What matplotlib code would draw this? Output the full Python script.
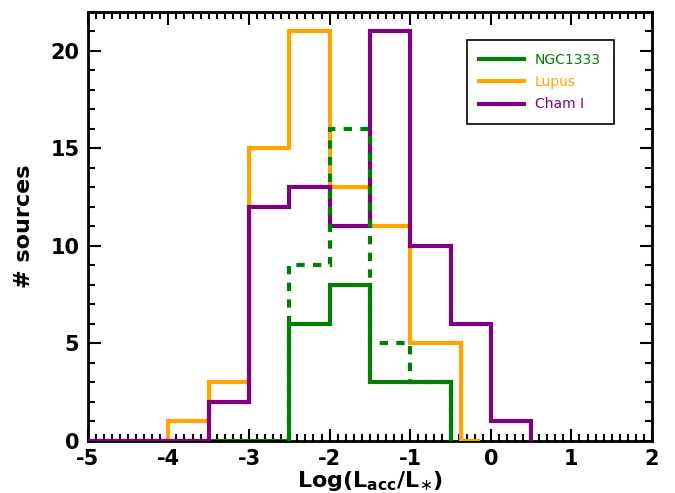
import matplotlib
matplotlib.use("Agg")
import matplotlib.pyplot as plt
from matplotlib.ticker import MultipleLocator
import numpy as np

plt.rcParams["axes.unicode_minus"] = False

# bin edges and counts per region, Log(Lacc/L*)
ngc_edges = [-5.0, -4.5, -4.0, -3.5, -3.0, -2.5, -2.0, -1.5, -1.0, -0.5]
ngc_counts = [0, 0, 0, 0, 0, 6, 8, 3, 3]
ngc_all_edges = [-2.5, -2.0, -1.5, -1.0, -0.5]
ngc_all_counts = [9, 16, 5, 3]

lupus_edges = [-5.0, -4.5, -4.0, -3.5, -3.0, -2.5, -2.0, -1.5, -1.0, -0.37, -0.13]
lupus_counts = [0, 0, 1, 3, 15, 21, 13, 11, 5, 0]

cham_edges = [-5.0, -4.5, -4.0, -3.5, -3.0, -2.5, -2.0, -1.5, -1.0, -0.5, 0.0, 0.5]
cham_counts = [0, 0, 0, 2, 12, 13, 11, 21, 10, 6, 1]

c_ngc = "green"
c_lupus = "orange"
c_cham = "purple"

fig = plt.figure(figsize=(6.75, 4.93), dpi=100)
ax = fig.add_axes([0.130, 0.1055, 0.836, 0.8705])

lw = 3.0
ax.stairs(ngc_counts, ngc_edges, color=c_ngc, lw=lw, baseline=0, label="NGC1333", zorder=2)
ax.stairs(lupus_counts, lupus_edges, color=c_lupus, lw=lw, baseline=0, label="Lupus", zorder=3)
ax.stairs(cham_counts, cham_edges, color=c_cham, lw=lw, baseline=0, label="Cham I", zorder=4)
ax.stairs(ngc_all_counts, ngc_all_edges, color=c_ngc, lw=lw, ls=(0, (2, 2)), baseline=0, zorder=5)

ax.set_xlim(-5, 2)
ax.set_ylim(0, 22)
ax.xaxis.set_major_locator(MultipleLocator(1))
ax.xaxis.set_minor_locator(MultipleLocator(0.1))
ax.yaxis.set_major_locator(MultipleLocator(5))
ax.yaxis.set_minor_locator(MultipleLocator(1))
ax.tick_params(which="both", direction="in", top=True, right=True, width=1.5)
ax.tick_params(which="major", length=9, labelsize=15, pad=6)
ax.tick_params(which="minor", length=5)
for lab in ax.get_xticklabels() + ax.get_yticklabels():
    lab.set_fontweight("bold")
for sp in ax.spines.values():
    sp.set_linewidth(2)

ax.set_xlabel(r"Log(L$_{\mathbf{acc}}$/L$_{\ast}$)", fontsize=16, fontweight="bold", labelpad=0)
ax.set_ylabel("# sources", fontsize=16, fontweight="bold", labelpad=12)

leg = ax.legend(loc="upper right", bbox_to_anchor=(0.944, 0.95), fontsize=10,
                fancybox=False, framealpha=1, edgecolor="black",
                handlelength=3.2, borderpad=0.9, labelspacing=0.6)
leg.get_frame().set_linewidth(1.2)
for txt, col in zip(leg.get_texts(), [c_ngc, c_lupus, c_cham]):
    txt.set_color(col)

fig.savefig("out.png", dpi=100)
